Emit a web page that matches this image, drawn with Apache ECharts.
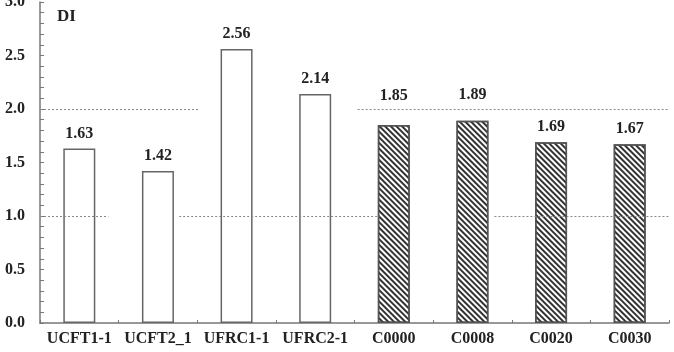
<!DOCTYPE html>
<html>
<head>
<meta charset="utf-8">
<script src="https://cdn.jsdelivr.net/npm/echarts@6/dist/echarts.min.js"></script>
<style>
  html, body { margin: 0; padding: 0; background: #fff; }
  #chart { width: 674px; height: 352px; }
</style>
</head>
<body>
<div id="chart"></div>
<script>
// categories and DI values
var categories = ['UCFT1-1', 'UCFT2_1', 'UFRC1-1', 'UFRC2-1', 'C0000', 'C0008', 'C0020', 'C0030'];
var diValues = [1.63, 1.42, 2.56, 2.14, 1.85, 1.89, 1.69, 1.67];
var hatched = [false, false, false, false, true, true, true, true];
var yTicks = [0, 0.5, 1.0, 1.5, 2.0, 2.5, 3.0];

// dotted reference lines (in category units 0..8), broken like the original
var refLines2 = [[0, 2.03], [4.04, 8]];
var refLines1 = [[0, 0.87], [1.77, 4.32], [5.78, 8]];

var font = 'Liberation Serif';
var myChart = echarts.init(document.getElementById('chart'));

var barData = diValues.map(function (v, i) {
    var item = { value: v };
    if (hatched[i]) {
        item.itemStyle = {
            color: '#fff',
            borderColor: '#555',
            decal: {
                symbol: 'rect',
                symbolSize: 1,
                color: '#333',
                dashArrayX: [1, 0],
                dashArrayY: [1.5, 1.5],
                rotation: Math.PI / 4
            }
        };
    }
    // the two labels sitting above the 2.0 line
    if (i === 4 || i === 5) {
        item.label = { offset: [0, i === 4 ? -14 : -11] };
    }
    return item;
});

function segs(list, y) {
    return list.map(function (s) {
        return [{ coord: [s[0], y] }, { coord: [s[1], y] }];
    });
}

myChart.setOption({
    animation: false,
    title: {
        text: 'DI',
        left: 52,
        top: 3,
        textStyle: { fontFamily: font, fontSize: 17, fontWeight: 'bold', color: '#222' }
    },
    grid: { left: 40, right: 5, top: 2, bottom: 29, outerBoundsMode: 'none' },
    xAxis: [
        {
            type: 'category',
            data: categories,
            axisLine: { lineStyle: { color: '#777', width: 1.5 } },
            axisTick: { show: true, inside: true, length: 3, lineStyle: { color: '#777' } },
            axisLabel: {
                fontFamily: font, fontSize: 16, fontWeight: 'bold', color: '#222',
                margin: 8, interval: 0
            }
        },
        {
            type: 'value',
            min: 0,
            max: 8,
            show: false
        }
    ],
    yAxis: {
        type: 'value',
        min: 0,
        max: 3,
        interval: 0.5,
        axisLine: { show: true, lineStyle: { color: '#777', width: 1.5 } },
        axisTick: { show: true, inside: true, length: 4, lineStyle: { color: '#777' } },
        minorTick: { show: true, splitNumber: 5, length: 4, lineStyle: { color: '#777' } },
        splitLine: { show: false },
        axisLabel: {
            fontFamily: font, fontSize: 16, fontWeight: 'bold', color: '#222', margin: 15,
            formatter: function (v) {
                return yTicks.indexOf(v) >= 0 ? v.toFixed(1) : '';
            }
        }
    },
    series: [
        {
            type: 'bar',
            data: barData,
            barWidth: 32,
            itemStyle: { color: '#fff', borderColor: '#666', borderWidth: 1.5 },
            label: {
                show: true,
                position: 'top',
                distance: 7,
                fontFamily: font, fontSize: 16, fontWeight: 'bold', color: '#222',
                formatter: function (p) { return p.value.toFixed(2); }
            }
        },
        {
            type: 'line',
            xAxisIndex: 1,
            data: [],
            z: 5,
            markLine: {
                silent: true,
                symbol: 'none',
                label: { show: false },
                lineStyle: { color: '#888', type: [2, 2], width: 1 },
                data: segs(refLines2, 2).concat(segs(refLines1, 1))
            }
        }
    ]
});
</script>
</body>
</html>
